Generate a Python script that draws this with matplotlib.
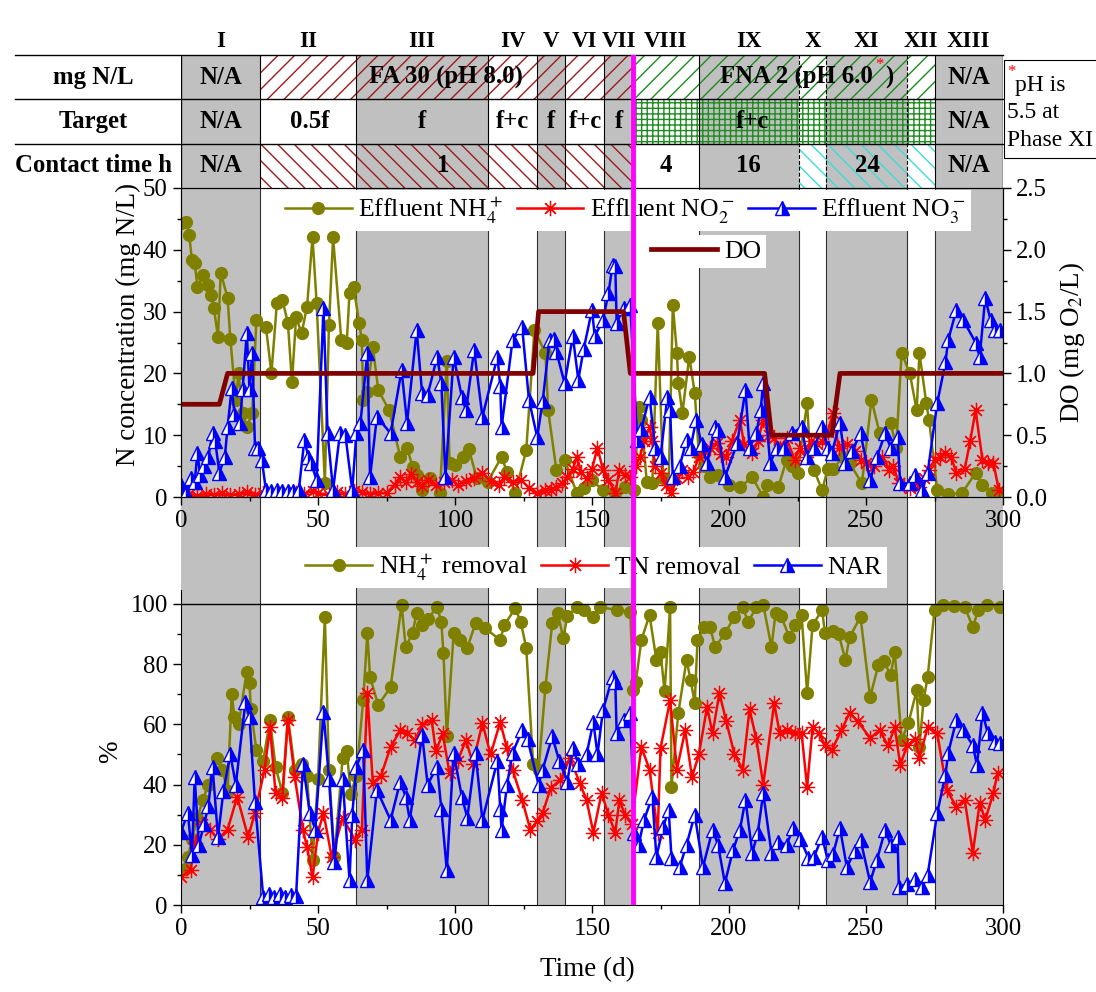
import matplotlib
matplotlib.use("Agg")

import matplotlib.pyplot as plt
from matplotlib.patches import Rectangle
from matplotlib.ticker import MultipleLocator
import matplotlib.transforms as mtransforms

plt.rcParams['font.family'] = ['Liberation Serif', 'DejaVu Serif']
plt.rcParams['mathtext.fontset'] = 'stix'
plt.rcParams['hatch.linewidth'] = 1.0

# ---- phases ----
phase_names = ["I", "II", "III", "IV", "V", "VI", "VII", "VIII", "IX", "X", "XI", "XII", "XIII"]
phase_edges = [0, 29, 64, 112, 130, 140, 154.5, 165, 189, 225.5, 235.5, 265, 275, 300]
dashed_edges = [225.5, 235.5, 265]
switch_day = 165

# table contents (row, day, text)   row 0 = top row
row_labels = ["mg N/L", "Target", "Contact time h"]
cell_texts = [
    (0, 14.5, "N/A"), (0, 96.7, "FA 30 (pH 8.0)"), (0, 287.5, "N/A"),
    (1, 14.5, "N/A"), (1, 47, "0.5f"), (1, 88, "f"), (1, 121, "f+c"), (1, 135, "f"),
    (1, 147.5, "f+c"), (1, 160, "f"), (1, 208.5, "f+c"), (1, 287.5, "N/A"),
    (2, 14.5, "N/A"), (2, 95.6, "1"), (2, 177, "4"), (2, 207, "16"), (2, 250.5, "24"),
    (2, 287.5, "N/A"),
]

# ---- upper panel data: (day, value) ----
nh4_eff = [(0, 44.3), (2, 44.5), (3, 42.4), (4, 38.3), (5, 37.8), (6, 34), (8, 36), (10, 34.3),
           (11, 32.7), (12, 30.6), (13.5, 25.9), (14.5, 36.3), (17, 32.2), (18, 25.6), (20, 15.7),
           (21, 20), (22.5, 13.6), (24, 11.3), (26, 13.6), (27.5, 28.6), (31, 27.5), (33, 20),
           (35, 31.4), (37, 31.9), (39, 28.2), (40.5, 18.6), (42, 29.1), (44, 26.5), (46, 30.8),
           (48, 42), (49.5, 31.4), (52.5, 2.3), (54, 27.8), (55.5, 42), (58.5, 25.4), (60.5, 25),
           (61.5, 33), (63, 34), (65, 28.2), (66, 25.4), (66.5, 15.7), (68, 17), (70, 24.3),
           (72, 17.3), (76, 14), (80, 6.5), (82.5, 8), (84.5, 4.9), (86, 3.5), (88, 1.1), (91, 3),
           (94.5, 0.6), (97, 22), (98, 5.5), (100, 5.2), (103, 6.4), (105, 7.8), (108, 3),
           (112, 2.5), (117, 6.5), (119, 4), (122, 0.6), (126, 7.6), (129, 27), (133, 23.3),
           (134, 14), (137, 4.4), (140, 6), (144.5, 0.6), (147, 1.5), (150, 2.7), (154, 1.1),
           (158.5, 0.6), (162, 1.6), (165.5, 1.1), (167, 14.6), (168, 12.5), (170, 2.4),
           (172, 2.2), (174, 28.1), (176, 3), (178, 2.5), (179.5, 31), (181, 23.3), (181.5, 18.4),
           (183, 13.6), (185.5, 22.7), (187.5, 16.8), (189, 7), (191, 5), (193, 3.2), (196, 3.5),
           (200, 2), (204, 1.6), (208.5, 3.2), (212.5, 0), (214, 2), (218, 1.6), (221, 6),
           (223, 5), (225, 3.9), (228.5, 15.2), (229.5, 7.6), (231, 4.4), (234, 1.1), (236, 4.5),
           (238, 4.5), (241.5, 6.5), (244, 5.5), (248.5, 2.2), (252, 15.7), (255, 10.3),
           (259, 12), (261, 8), (263, 23.3), (266, 20), (268.5, 14), (269.5, 23.3), (272, 15.2),
           (273, 12.5), (276, 1.1), (280, 0.5), (285, 0.6), (290, 3.9), (292.5, 2), (296, 0.6),
           (299, 0.6)]

no2_eff = [(0, 0.3), (3, 0.5), (6, 0.2), (9, 0.5), (12, 0.4), (15, 0.6), (18, 0.3), (21, 0.5),
           (24, 0.8), (27, 0.4), (30, 0.6), (33, 0.3), (36, 0.5), (39, 0.4), (42, 0.7), (45, 0.5),
           (48, 1.0), (50, 0.6), (54, 0.4), (57, 0.8), (60, 0.5), (63, 1.0), (66, 0.8), (69, 0.5),
           (72, 0.7), (75, 0.6), (78, 2.0), (80, 3.3), (82, 2.4), (84, 3.8), (86, 2.5), (88, 1.8),
           (90, 2.7), (93, 2.0), (96, 2.4), (99, 2.7), (101, 1.9), (104, 2.6), (107, 3.0),
           (110, 3.9), (113, 2.6), (116, 2.0), (118, 3.2), (121, 2.5), (124, 2.8), (127, 1.5),
           (130, 0.6), (133, 1.1), (135, 1.2), (137, 1.6), (139, 2.2), (141, 3.2), (143, 4.5),
           (144.5, 6.5), (146, 4.0), (148, 3.0), (150, 4.5), (152, 8), (154, 4.4), (156, 2.8),
           (158.5, 0.6), (160, 4.4), (162, 3.5), (164, 3.2), (166, 5), (167.5, 6.5), (169, 9),
           (171, 11.3), (172, 9), (173, 5), (175, 3.9), (177, 2), (179, 0.6), (181, 3), (183, 4.4),
           (185, 3.2), (187, 4.0), (189, 6.5), (191, 7.5), (193, 8), (195.5, 8.7), (197, 7),
           (199, 6.5), (201, 9), (204, 12.5), (205.5, 8.5), (208.5, 7.1), (210.5, 9), (212.5, 12.5),
           (214.5, 10), (216.5, 9.5), (218.5, 8), (221, 9.5), (224, 6), (226, 8), (228, 6.5),
           (230, 9), (232, 8.5), (234, 9), (236, 10.5), (238, 13.6), (240, 8), (243, 8.5),
           (246, 7.5), (248, 6), (250, 5.5), (253, 5), (256, 6.5), (258.5, 4.4), (260, 5),
           (262, 2.2), (264, 2), (266, 1.5), (268, 2.5), (269.5, 1.6), (271, 3), (273, 4.4),
           (275, 6), (277, 6.5), (279, 7.2), (281, 6.5), (283, 3.9), (286, 4.5), (288, 9),
           (290, 14), (292.5, 6), (294.5, 5.5), (296.5, 5.5), (298.5, 1.1)]

no3_eff = [(0, 1.9), (2, 0.7), (3.5, 3.0), (5, 2.5), (6, 7.1), (7, 3.5), (8.5, 5.0), (10, 6.5),
           (11.5, 10.3), (12.5, 9.0), (14, 3.9), (16, 6.5), (17, 11.3), (18.5, 17.6), (19.5, 13.5),
           (21.5, 12), (22.5, 17.5), (24, 26.5), (25, 17.5), (26, 23.3), (27, 8), (28, 8),
           (29.5, 6.0), (31, 1.1), (33, 1.0), (35, 1.1), (37, 0.9), (39, 1.0), (41, 1.0), (43, 1.1),
           (45, 9.2), (46.5, 6.5), (47.5, 5.5), (49.5, 2.7), (52, 30.6), (53.5, 10.3), (55.5, 1.1),
           (58, 10.3), (60, 10), (62.5, 1.1), (64, 10.3), (65.5, 12), (68, 23.3), (69, 3.2),
           (71.5, 13), (76.5, 10.3), (80.5, 20.5), (82.5, 12), (86, 27), (88, 16.8), (90, 16.5),
           (93.5, 22.7), (95, 18.5), (96.5, 3.2), (99.5, 22.7), (102.5, 16.2), (104, 14),
           (107, 23.8), (110, 13), (115.5, 22.7), (116.5, 18), (117, 11.3), (121, 25.4),
           (124.5, 27.5), (127, 15.7), (130, 9.7), (132, 15.5), (134.5, 25.4), (136, 25.5),
           (137, 23.5), (140, 18.4), (143, 26), (145, 19), (147, 24), (150, 30.3), (151, 26),
           (154, 28.6), (156, 33), (157.5, 37.5), (158.5, 37.3), (159, 28.2), (161.5, 30.6),
           (164, 31), (166.5, 9.2), (168, 11), (171, 16.2), (173, 8), (175, 6.5), (177.5, 16.2),
           (178.5, 14), (179.5, 3.2), (182, 5), (184.5, 9.2), (186, 8), (188, 12.5), (190, 8.5),
           (192, 5.5), (195, 11.3), (196, 10.8), (198.5, 3.2), (203, 8.7), (206, 17.3),
           (207.5, 8), (210, 10.3), (211.5, 14), (212.5, 18.4), (215, 5.5), (217.5, 8), (220, 8),
           (223, 10.3), (226.5, 11.3), (228.5, 6.5), (231, 8), (234, 11.3), (236, 8), (237.5, 7.1),
           (240.5, 12), (242.5, 5.5), (245, 7.5), (248, 10.3), (251.5, 2.7), (254, 6.5),
           (257, 10.3), (259, 8), (261.5, 9.7), (262.5, 2.2), (266, 2.2), (268, 3.5), (270.5, 1.1),
           (272.5, 3.9), (276, 15.2), (279, 21.8), (280, 25.4), (283, 30.3), (285.5, 28.6),
           (290, 25), (291.5, 22.7), (293.5, 32.2), (295.5, 28.6), (297, 27), (299, 27)]

do_level = [(0, 0.75), (14, 0.75), (17, 1.0), (128.5, 1.0), (130.5, 1.5), (161.5, 1.5),
            (164, 1.0), (213, 1.0), (215.5, 0.5), (237.5, 0.5), (240.5, 1.0), (300, 1.0)]

# ---- lower panel data (%) ----
nh4_rem = [(0, 11.6), (1.5, 12), (2.5, 16), (4, 22), (6, 29), (8, 35), (10, 40), (13, 49), (15, 45),
           (17, 38), (18.5, 70), (19.5, 62.5), (21, 60), (24, 77.5), (25, 73.7), (25.5, 65),
           (27.5, 51.5), (30, 48), (32.5, 61.5), (34.5, 46), (37, 37.2), (39, 62.5), (41.5, 45),
           (44, 47), (46, 43), (48, 15), (50, 42), (52.5, 95.7), (54, 45), (56, 16), (59, 49),
           (60.5, 51), (62, 37), (64, 43), (66.5, 68), (68, 90.3), (69, 75.7), (72, 66.4),
           (76.5, 72.4), (80.5, 99.7), (82, 85.7), (84.5, 90.3), (86, 97), (88, 93), (90, 95),
           (93.5, 99), (95, 94), (95.8, 83.7), (97, 56), (99.5, 90.3), (102, 88), (104.5, 85.4),
           (107.5, 93.7), (111, 92), (116.5, 88), (118, 93), (122, 98.6), (124, 94), (126, 85.4),
           (128.5, 47), (130.5, 45), (133, 72.4), (135.5, 93.7), (137.5, 97), (139.5, 88.7),
           (141, 96), (144.5, 99), (147, 98), (150.5, 95.7), (153, 99), (159, 98), (164, 97.3),
           (165, 71.4), (166, 74), (168, 88), (171, 96.3), (173.5, 81.4), (175, 84), (176.5, 71),
           (178.5, 99), (179, 39.2), (181.5, 63.8), (184.5, 81.4), (186, 74.7), (187.5, 67),
           (188.5, 88), (191, 92.4), (193, 92.4), (195, 85.7), (198.5, 90.3), (202, 95.7),
           (205, 99), (207, 94), (210, 99), (212.5, 99.7), (215.5, 85.7), (217, 97), (219, 96),
           (222, 89), (224, 93), (226.5, 96.3), (228.5, 70.4), (230.5, 93), (234, 98), (235, 90.3),
           (238, 91), (240, 90), (242.5, 81.4), (244, 89), (248, 95.7), (251.5, 69), (254.5, 79.7),
           (256.5, 81), (259, 76.4), (260.5, 84), (263, 54.8), (265.5, 60.5), (268.5, 71.4),
           (269.5, 52.5), (271, 68), (272.5, 75.7), (275, 98), (278, 99.7), (282, 99.5), (286, 99),
           (289, 92.4), (291, 98), (294, 99.7), (299, 99)]

tn_rem = [(0, 9.3), (3.5, 11.6), (5, 20.6), (7.5, 27), (10.5, 25), (13.5, 22), (17, 25), (20.5, 36),
          (24.5, 22.6), (27, 30.6), (30.5, 45), (32.5, 59), (34.5, 37.2), (37, 35.5), (39, 61.5),
          (41.5, 42.5), (44.5, 25), (46, 19.3), (48, 9.3), (50, 24), (52, 30.6), (55, 16), (59, 29),
          (63.5, 21.6), (66, 25), (68, 70.4), (70, 40.5), (73, 43), (76.5, 52.5), (80, 58),
          (82.5, 57), (85.5, 54.8), (88, 60), (91.5, 61.5), (93, 51), (95.5, 57), (98, 43.8),
          (101, 48), (104, 54.8), (106.5, 47), (110, 60.4), (113, 50), (116.5, 60.8), (119, 52),
          (121, 45), (124.5, 35), (127.5, 25), (130, 28), (132, 30.6), (135, 39), (138.5, 41.5),
          (142, 49), (145.5, 40.5), (148, 35), (150.5, 24), (153.5, 37.2), (156, 30), (158.5, 24),
          (160, 35), (162, 30), (164.5, 27), (168, 52.5), (171, 45), (174, 24), (175, 52),
          (178.5, 68), (181, 45), (184, 58), (186.5, 42.5), (189, 50), (192, 65.8), (194, 57),
          (196.5, 70.4), (199, 61), (202, 50), (205, 45), (207.5, 65), (210, 55), (212.5, 40),
          (216.5, 67), (218.5, 57), (221, 58), (224, 57), (226.5, 57), (228.5, 39.2), (230.5, 59),
          (233, 57), (235, 53), (237.5, 51.5), (241, 58), (244, 63.8), (247, 61), (251.5, 55.5),
          (255, 58), (258, 53), (260.5, 59), (262.5, 46.5), (265, 53), (268, 55), (269.5, 49),
          (272.5, 59), (276, 57), (279.5, 38.2), (283, 32.6), (286, 35), (289, 17.3), (291.5, 34),
          (293.5, 28.2), (296.5, 37.2), (298, 43.8)]

nar = [(0, 24.3), (2.5, 30.6), (4, 16.6), (5, 42.5), (6.5, 20), (8.5, 27), (10, 33), (11.5, 46),
       (13.5, 22.6), (15.5, 38), (18, 50), (20, 40), (23.5, 67.4), (25, 62.5), (27, 34.2), (30, 2.7),
       (32, 3.5), (34, 2.8), (36, 3.5), (38, 2.8), (40, 3.2), (42, 3.0), (44.5, 47), (47, 30.6),
       (49, 25), (52, 64), (54, 42), (56, 14.3), (59, 42), (61.5, 8.3), (62.5, 30), (64, 46),
       (66.5, 51.5), (68, 8.3), (71.5, 38.2), (76.5, 28.2), (80, 41), (82, 36), (83.5, 28.2),
       (88, 56.5), (90, 40), (93.5, 46), (95, 32), (97, 11.6), (99.5, 50.5), (102.5, 36),
       (104.5, 29), (107.5, 50.5), (110, 28.2), (115.5, 48), (116.5, 32), (117, 25), (119, 40),
       (121, 50.5), (124.5, 58), (126.5, 55), (130.5, 40), (132, 45), (135.5, 56), (138, 48),
       (141, 41), (143, 52), (145, 47), (148, 50), (150.5, 60.8), (152, 50), (154, 64.8),
       (157.5, 75.7), (158.5, 74), (159, 57), (161.5, 61.5), (164, 63.8), (165.5, 24), (167, 20),
       (169, 28.2), (172, 36), (173.5, 16), (176, 26), (178, 31.6), (179, 15.6), (182, 12.6),
       (184.5, 20), (187.5, 30), (190.5, 12.6), (194, 25), (196, 20), (198.5, 7.3), (201.5, 18.3),
       (204, 25), (206, 35), (208.5, 17.3), (210.5, 24), (212.5, 37.2), (215.5, 17.3), (218, 21),
       (221, 20), (223.5, 25.6), (226, 22), (229, 15.6), (231, 16), (234, 22.6), (236, 15),
       (238, 17), (240.5, 25.6), (243, 12.6), (246, 18), (248, 21.6), (251.5, 7.6), (254, 15),
       (257, 25), (259, 20), (261.5, 22.6), (262, 6), (265, 7), (268, 8.5), (270.5, 6),
       (272.5, 10), (276, 30.6), (279, 43.2), (280, 50.5), (283, 61.5), (285.5, 58), (289, 53),
       (290.5, 46.5), (292.5, 63.8), (294.5, 57), (297, 54), (299, 53.8)]

OLIVE = "#808000"
RED = "#ff0000"
BLUE = "#0000ff"
DORED = "#800000"
GREY = "#c0c0c0"
BROWN = "#9b1c1c"
GREEN = "#1e8c1e"
CYAN = "#3cdcdc"
MAGENTA = "#ff00ff"

FS = 17.8      # ticks / table
LFS = 18.5     # legends
AFS = 19.5     # axis labels

W, H = 1096, 992
fig = plt.figure(figsize=(W / 100, H / 100), dpi=100)


def box(x0, y0, x1, y1):
    # pixel box (top-left origin) -> figure fraction
    return [x0 / W, 1 - y1 / H, (x1 - x0) / W, (y1 - y0) / H]


ax_bg = fig.add_axes(box(181, 55, 1003, 905), zorder=0)
ax_tab = fig.add_axes(box(181, 55, 1003, 188), zorder=1)
ax_up = fig.add_axes(box(181, 188, 1003, 497), zorder=2)
ax_lo = fig.add_axes(box(181, 590, 1003, 905), zorder=2)
ax_ov = fig.add_axes(box(181, 55, 1003, 905), zorder=10)

# ---- background shading ----
ax_bg.set_xlim(0, 300)
ax_bg.set_ylim(0, 1)
ax_bg.axis("off")
y_tab = (905 - 188) / 850
for i in range(0, len(phase_names), 2):
    ax_bg.axvspan(phase_edges[i], phase_edges[i + 1], color=GREY, lw=0)
for e in phase_edges[1:-1]:
    ax_bg.plot([e, e], [0, y_tab], color="#303030", lw=0.8)

# ---- table ----
ax_tab.set_xlim(0, 300)
ax_tab.set_ylim(0, 3)
ax_tab.axis("off")
ax_tab.set_facecolor("none")
hatches = [
    (29, 165, 2, "//", BROWN), (165, 275, 2, "//", GREEN),
    (165, 275, 1, "+++", GREEN),
    (29, 165, 0, "\\\\", BROWN), (225.5, 275, 0, "\\\\", CYAN),
]
for x0, x1, y0, h, c in hatches:
    ax_tab.add_patch(Rectangle((x0, y0), x1 - x0, 1, fill=False, hatch=h, edgecolor=c, lw=0))

trans = mtransforms.blended_transform_factory(ax_tab.transAxes, ax_tab.transData)
for y in [3, 2, 1]:
    ax_tab.plot([-0.202, 1], [y, y], color="k", lw=1, transform=trans, clip_on=False)
for e in phase_edges[1:-1]:
    ax_tab.plot([e, e], [0, 3], color="k", lw=0.8, ls="--" if e in dashed_edges else "-")
ax_tab.plot([0, 0], [0, 3], color="k", lw=1)
ax_tab.plot([300, 300], [0, 3], color="k", lw=1)

for r, lab in enumerate(row_labels):
    ax_tab.text(-0.107, 2.5 - r, lab, transform=trans, ha="center", va="center",
                fontsize=FS, fontweight="bold")
for r, d, t in cell_texts:
    ax_tab.text(d, 2.5 - r, t, ha="center", va="center", fontsize=FS, fontweight="bold")
ax_tab.text(252.5, 2.5, "FNA 2 (pH 6.0", ha="right", va="center", fontsize=FS, fontweight="bold")
ax_tab.text(255, 2.78, "*", ha="center", va="center", fontsize=12, color=RED)
ax_tab.text(258.4, 2.5, ")", ha="center", va="center", fontsize=FS, fontweight="bold")

for i, name in enumerate(phase_names):
    c = (phase_edges[i] + phase_edges[i + 1]) / 2
    ax_tab.text(c, 3.3, name, ha="center", va="center", fontsize=16.5, fontweight="bold")

# note box
fig.patches.append(Rectangle((1004 / W, 1 - 158 / H), 0.2, 98 / H, transform=fig.transFigure,
                             fill=False, edgecolor="k", lw=0.8))
fig.text(1011 / W, 1 - 72 / H, "*", color=RED, fontsize=12, ha="center", va="center")
fig.text(1015 / W, 1 - 85 / H, "pH is", fontsize=17, ha="left", va="center")
fig.text(1007 / W, 1 - 112 / H, "5.5 at", fontsize=17, ha="left", va="center")
fig.text(1007 / W, 1 - 140 / H, "Phase XI", fontsize=17, ha="left", va="center")

# ---- upper panel ----
ax_up.set_facecolor("none")
ax_do = ax_up.twinx()
ax_do.set_zorder(3)

l_nh4, = ax_up.plot(*zip(*nh4_eff), color=OLIVE, lw=1.8, marker="o", ms=8.5,
                    label="Effluent NH$_4^+$")
l_no2, = ax_up.plot(*zip(*no2_eff), color=RED, lw=1.8, marker=(8, 2, 0), ms=11, mew=0.9,
                    label="Effluent NO$_2^-$")
l_no3, = ax_up.plot(*zip(*no3_eff), color=BLUE, lw=1.8, marker="^", ms=9.5, fillstyle="right",
                    mfc=BLUE, mfcalt="white", mec=BLUE, mew=1, label="Effluent NO$_3^-$")
l_do, = ax_do.plot(*zip(*do_level), color=DORED, lw=3.4, label="DO")

ax_up.set_xlim(0, 300)
ax_up.set_ylim(0, 50)
ax_do.set_ylim(0, 2.5)
ax_up.xaxis.set_major_locator(MultipleLocator(50))
ax_up.xaxis.set_minor_locator(MultipleLocator(25))
ax_up.yaxis.set_major_locator(MultipleLocator(10))
ax_up.yaxis.set_minor_locator(MultipleLocator(5))
ax_do.yaxis.set_major_locator(MultipleLocator(0.5))
ax_do.yaxis.set_minor_locator(MultipleLocator(0.25))
ax_do.yaxis.set_major_formatter(plt.FormatStrFormatter("%.1f"))
for a in (ax_up, ax_do, ax_lo):
    a.tick_params(which="both", direction="out", labelsize=FS, width=1)
    a.tick_params(which="major", length=6)
    a.tick_params(which="minor", length=3)
ax_up.set_ylabel("N concentration (mg N/L)", fontsize=AFS)
ax_up.yaxis.set_label_coords(-0.049, 0.557)
ax_do.set_ylabel("DO (mg O$_2$/L)", fontsize=AFS)
ax_do.yaxis.set_label_coords(1.066, 0.5)

leg_kw = dict(fontsize=LFS, frameon=True, fancybox=False, framealpha=1, edgecolor="none",
              handlelength=2.6, handletextpad=0.25, columnspacing=0.55, borderpad=0.2,
              borderaxespad=0)
leg1 = ax_do.legend(handles=[l_nh4, l_no2, l_no3], loc="upper left",
                    bbox_to_anchor=(0.12, 0.994), ncol=3, **leg_kw)
ax_do.add_artist(leg1)
ax_do.legend(handles=[l_do], loc="upper left", bbox_to_anchor=(0.565, 0.848), **leg_kw)

# ---- lower panel ----
ax_lo.set_facecolor("none")
ln1, = ax_lo.plot(*zip(*nh4_rem), color=OLIVE, lw=1.8, marker="o", ms=8.5,
                  label="NH$_4^+$ removal")
ln2, = ax_lo.plot(*zip(*tn_rem), color=RED, lw=1.8, marker=(8, 2, 0), ms=11, mew=0.9,
                  label="TN removal")
ln3, = ax_lo.plot(*zip(*nar), color=BLUE, lw=1.8, marker="^", ms=9.5, fillstyle="right",
                  mfc=BLUE, mfcalt="white", mec=BLUE, mew=1, label="NAR")
ax_lo.axhline(100, color="k", lw=1)
ax_lo.set_xlim(0, 300)
ax_lo.set_ylim(0, 104.65)
ax_lo.spines["top"].set_visible(False)
ax_lo.xaxis.set_major_locator(MultipleLocator(50))
ax_lo.xaxis.set_minor_locator(MultipleLocator(25))
ax_lo.yaxis.set_major_locator(MultipleLocator(20))
ax_lo.yaxis.set_minor_locator(MultipleLocator(10))
ax_lo.set_ylabel("%", fontsize=AFS)
ax_lo.yaxis.set_label_coords(-0.071, 0.486)
ax_lo.set_xlabel("Time (d)", fontsize=AFS)
ax_lo.xaxis.set_label_coords(0.494, -0.165)
ax_lo.legend(handles=[ln1, ln2, ln3], loc="upper left", bbox_to_anchor=(0.145, 1.137), ncol=3,
             **leg_kw)

# ---- magenta switch line on top ----
ax_ov.set_xlim(0, 300)
ax_ov.set_ylim(0, 1)
ax_ov.axis("off")
ax_ov.axvline(switch_day, color=MAGENTA, lw=3.5)

fig.savefig("out.png", dpi=100)
